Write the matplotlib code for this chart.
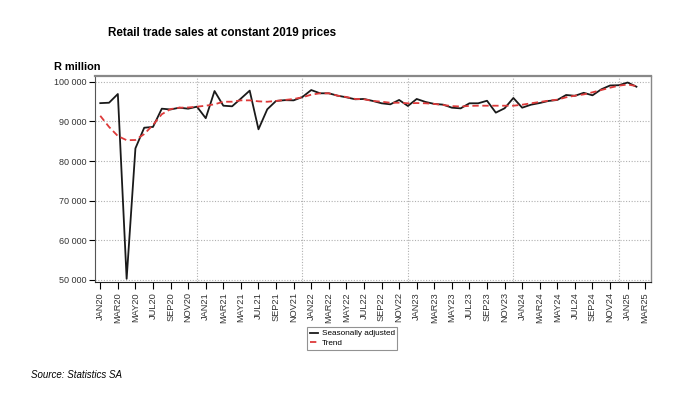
import numpy as np
import matplotlib.pyplot as plt

# Monthly retail trade sales (R million), JAN20 .. FEB25
sa = [94600, 94700, 96900, 50300, 83200, 88400, 88600, 93200, 93000, 93450,
      93200, 93700, 90800, 97650, 93950, 93800, 95750, 97750, 88000, 93050,
      95150, 95350, 95300, 96150, 97900, 97080, 97080, 96480, 96070, 95570,
      95650, 95150, 94560, 94300, 95400, 93880, 95650, 94900, 94400, 94220,
      93450, 93280, 94560, 94560, 95200, 92200, 93300, 95900, 93450, 94200,
      94630, 95150, 95400, 96650, 96450, 97200, 96570, 98080, 99050, 99120,
      99800, 98740]
trend = [91400, 88600, 86300, 85250, 85300, 86800, 89100, 91800, 93100, 93450,
         93500, 93700, 93950, 94300, 94950, 94960, 95300, 95300, 95050, 94950,
         95150, 95400, 95640, 96070, 96730, 97080, 97080, 96480, 96150, 95650,
         95570, 95150, 94960, 94700, 94700, 94560, 94620, 94560, 94400, 94130,
         93850, 93750, 93900, 93950, 93950, 93950, 93950, 93950, 94200, 94560,
         94890, 95220, 95470, 96070, 96480, 96800, 97330, 97900, 98490, 99000,
         99300, 98900]

meses = ['JAN', 'FEB', 'MAR', 'APR', 'MAY', 'JUN', 'JUL', 'AUG', 'SEP', 'OCT', 'NOV', 'DEC']
etiquetas = [meses[k % 12] + str(20 + k // 12) for k in range(63)]
yticks = [50000, 60000, 70000, 80000, 90000, 100000]

x = np.arange(len(sa))

plt.rcParams['font.family'] = ['Liberation Sans', 'DejaVu Sans']
fig = plt.figure(figsize=(7, 3.94), dpi=100)
ax = fig.add_axes([0.1357, 0.283, 0.7936, 0.524])

# rejilla punteada
for yv in yticks:
    ax.axhline(yv, color='#b0b0b0', lw=0.8, ls=(0, (1, 1.5)), zorder=0)
for xv in [11, 23, 35, 47, 59]:
    ax.axvline(xv, color='#b0b0b0', lw=0.8, ls=(0, (1, 1.5)), zorder=0)

ax.plot(x, sa, color='#1a1a1a', lw=1.3, label='Seasonally adjusted', zorder=3)
ax.plot(x, trend, color='#dd3a3a', lw=1.3, ls=(0, (3.5, 2)), label='Trend', zorder=4)

ax.set_xlim(-0.6, 62.6)
ax.set_ylim(49370, 101430)
ax.set_yticks(yticks)
ax.set_yticklabels(['{:,}'.format(v).replace(',', ' ') for v in yticks],
                   fontsize=6.5, color='#333333')
ax.set_xticks(range(0, 63, 2))
ax.set_xticklabels(etiquetas[::2], rotation=90, fontsize=6.7, color='#333333')
ax.tick_params(axis='y', length=4, width=0.8, pad=2)
ax.tick_params(axis='x', length=5, width=0.8, pad=2)

ax.spines['top'].set_color('#888888')
ax.spines['top'].set_linewidth(1.6)
ax.spines['right'].set_color('#888888')
ax.spines['right'].set_linewidth(1.0)
ax.spines['left'].set_color('#555555')
ax.spines['bottom'].set_color('#222222')

fig.text(0.317, 0.916, 'Retail trade sales at constant 2019 prices', ha='center',
         va='center', fontsize=8.4, fontweight='bold')
fig.text(0.077, 0.83, 'R million', ha='left', va='center', fontsize=7.9,
         fontweight='bold')
fig.text(0.044, 0.048, 'Source: Statistics SA', ha='left', va='center',
         fontsize=7, style='italic')

leg = ax.legend(loc='upper left', bbox_to_anchor=(0.382, -0.215), fontsize=5.9,
                frameon=True, fancybox=False, handlelength=1.0, handletextpad=0.4,
                borderpad=0.35, labelspacing=0.25, borderaxespad=0)
leg.get_frame().set_edgecolor('#777777')
leg.get_frame().set_linewidth(0.8)

fig.savefig('out.png', dpi=100)
